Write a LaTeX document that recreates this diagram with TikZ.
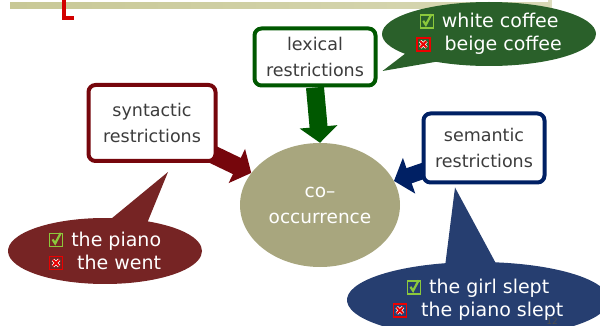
\documentclass[tikz,border=0pt]{standalone}
\usepackage{fontspec}
\setmainfont{DejaVu Sans}
\usepackage{xcolor}
\usetikzlibrary{arrows.meta, positioning, shapes.geometric, shapes.callouts, calc, backgrounds}
\definecolor{frameOlive}{RGB}{200,200,150}
\definecolor{slideRed}{RGB}{210,0,0}
\definecolor{coocOlive}{RGB}{168,166,126}
\definecolor{lexGreen}{RGB}{0,88,0}
\definecolor{lexBubble}{RGB}{42,96,42}
\definecolor{synRed}{RGB}{118,6,12}
\definecolor{synBubble}{RGB}{118,36,36}
\definecolor{semBlue}{RGB}{0,32,100}
\definecolor{semBubble}{RGB}{38,62,112}
\definecolor{textGray}{RGB}{60,60,60}
\definecolor{tickGreen}{RGB}{140,200,60}
\definecolor{crossRed}{RGB}{235,0,0}
\newcommand{\okBox}{\tikz[baseline=0pt, x=1pt, y=1pt]{\draw[tickGreen, line width=1.4pt] (0,0) rectangle (13,13); \draw[tickGreen, line width=2.2pt] (3,7) -- (5.6,3) -- (11.2,13.5);}\kern8pt}
\newcommand{\noBox}{\tikz[baseline=0pt, x=1pt, y=1pt]{\draw[crossRed, line width=1.4pt] (0,0) rectangle (13,13); \draw[white, line width=3.4pt] (3.4,3.4) -- (9.6,9.6) (3.4,9.6) -- (9.6,3.4); \draw[crossRed, line width=2pt] (3.4,3.4) -- (9.6,9.6) (3.4,9.6) -- (9.6,3.4);}\kern14pt}
\tikzset{
    resBox/.style={rectangle, rounded corners=7pt, draw=#1, line width=4pt, fill=white, text=textGray, align=center, inner sep=0pt, minimum width=121pt, font=\fontsize{17.5}{26}\selectfont},
    bubble/.style={ellipse callout, fill=#1, text=white, align=center, inner sep=0pt, callout pointer arc=22, font=\fontsize{19}{23}\selectfont},
    blockArrow/.style={draw=#1, line width=18pt, -{Triangle[width=37pt, length=16pt]}},
    cooc/.style={ellipse, fill=coocOlive, text=white, align=center, inner sep=0pt, minimum width=160pt, minimum height=124pt, font=\fontsize{18.5}{26}\selectfont}
}
\begin{document}
\begin{tikzpicture}[x=1pt, y=-1pt]
    \useasboundingbox (0,0) rectangle (600,326);
    \clip (0,0) rectangle (600,326);
    % --- slide frame ---
    \fill[frameOlive!60] (548,0) rectangle (552,40);
    \shade[left color=frameOlive, right color=frameOlive!70] (10,3) rectangle (550,9);
    \draw[slideRed, line width=4.5pt] (64,0) -- (64,18) -- (74,18);
    % --- centre ---
    \node[cooc] (cooc) at (320,205) {co–\\occurrence};
    % --- restriction boxes ---
    \node[resBox=lexGreen, minimum height=57pt] (lex) at (315,57) {lexical\\restrictions};
    \node[resBox=synRed, minimum width=127pt, minimum height=76pt] (syn) at (152,123) {syntactic\\restrictions};
    \node[resBox=semBlue, minimum height=69pt] (sem) at (484,148) {semantic\\restrictions};
    % --- arrows ---
    \begin{pgfonlayer}{background}
        \draw[blockArrow=lexGreen] (lex.south) -- (cooc.north);
        \draw[blockArrow=synRed] ([shift={(-16,-14)}]syn.south east) -- (cooc.155);
        \draw[blockArrow=semBlue, line width=16pt] ([shift={(10,20)}]sem.west) -- (cooc.18);
    \end{pgfonlayer}
    % --- examples ---
    \node[bubble=lexBubble, minimum width=214pt, minimum height=64pt, callout absolute pointer={($(lex.east)+(5,14)$)}] (lexEx) at (489,34) {\okBox white coffee\\\noBox beige coffee};
    \node[bubble=synBubble, minimum width=194pt, minimum height=66pt, callout absolute pointer={($(syn.south)+(16,9)$)}] (synEx) at (105,251) {\okBox the piano\\\noBox the went};
    \node[bubble=semBubble, minimum width=262pt, minimum height=76pt, callout absolute pointer={($(sem.south)+(-29,3)$)}] (semEx) at (478,300) {\okBox the girl slept\\\noBox the piano slept};
    \node[font=\fontsize{9}{9}\selectfont, text=black!70] (pageNo) at (552,321) {12};
\end{tikzpicture}
\end{document}
